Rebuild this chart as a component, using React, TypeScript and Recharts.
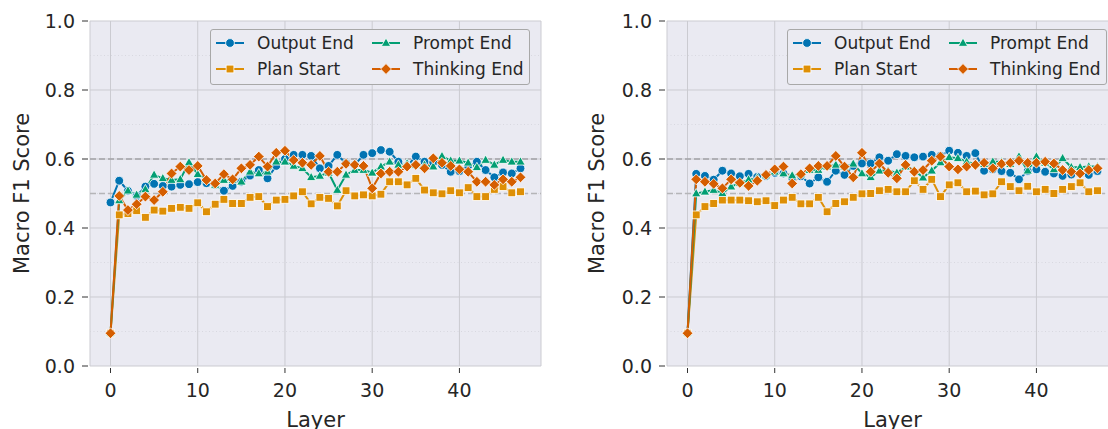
import React from "react";
import { CartesianGrid, Legend, Line, LineChart, ReferenceLine, XAxis, YAxis } from "recharts";

const layers = [
  0, 1, 2, 3, 4, 5, 6, 7, 8, 9, 10, 11, 12, 13, 14, 15, 16, 17, 18, 19, 20, 21, 22, 23,
  24, 25, 26, 27, 28, 29, 30, 31, 32, 33, 34, 35, 36, 37, 38, 39, 40, 41, 42, 43, 44, 45, 46, 47
];

const xTicks = [0, 10, 20, 30, 40];
const yTicks = [0, 0.2, 0.4, 0.6, 0.8, 1.0];
const minorY = [0.1, 0.3, 0.5, 0.7, 0.9];

// left panel
const leftOutputEnd = [
  0.474, 0.537, 0.508, 0.493, 0.52, 0.528, 0.522, 0.52, 0.525, 0.527, 0.533, 0.53, 0.525, 0.508, 0.522, 0.534,
  0.552, 0.568, 0.544, 0.58, 0.6, 0.612, 0.612, 0.609, 0.573, 0.58, 0.612, 0.587, 0.583, 0.612, 0.617, 0.626,
  0.621, 0.592, 0.58, 0.607, 0.592, 0.59, 0.583, 0.563, 0.565, 0.58, 0.592, 0.568, 0.547, 0.561, 0.558, 0.573
];
const leftPlanStart = [
  0.095, 0.438, 0.442, 0.45, 0.431, 0.452, 0.449, 0.457, 0.46, 0.457, 0.473, 0.447, 0.469, 0.483, 0.471, 0.471,
  0.489, 0.491, 0.462, 0.481, 0.483, 0.493, 0.505, 0.47, 0.489, 0.486, 0.464, 0.508, 0.493, 0.496, 0.493, 0.498,
  0.534, 0.534, 0.525, 0.544, 0.51, 0.502, 0.499, 0.508, 0.502, 0.517, 0.491, 0.491, 0.512, 0.52, 0.502, 0.505
];
const leftPromptEnd = [
  0.095, 0.48, 0.508, 0.496, 0.512, 0.554, 0.544, 0.539, 0.541, 0.59, 0.556, 0.54, 0.525, 0.539, 0.539, 0.534,
  0.563, 0.558, 0.563, 0.592, 0.592, 0.58, 0.573, 0.547, 0.551, 0.56, 0.51, 0.554, 0.568, 0.568, 0.56, 0.578,
  0.592, 0.583, 0.587, 0.583, 0.583, 0.578, 0.608, 0.595, 0.595, 0.589, 0.576, 0.597, 0.583, 0.597, 0.592, 0.592
];
const leftThinkingEnd = [
  0.095, 0.493, 0.452, 0.469, 0.491, 0.481, 0.505, 0.558, 0.578, 0.568, 0.58, 0.539, 0.529, 0.556, 0.541, 0.573,
  0.583, 0.607, 0.578, 0.618, 0.624, 0.597, 0.589, 0.583, 0.609, 0.563, 0.563, 0.586, 0.583, 0.58, 0.515, 0.558,
  0.563, 0.563, 0.578, 0.583, 0.573, 0.602, 0.589, 0.58, 0.57, 0.563, 0.534, 0.534, 0.525, 0.541, 0.534, 0.547
];

// right panel
const rightOutputEnd = [
  0.095, 0.557, 0.551, 0.54, 0.566, 0.558, 0.55, 0.557, 0.548, 0.55, 0.56, 0.558, 0.545, 0.55, 0.529, 0.547,
  0.534, 0.566, 0.554, 0.58, 0.587, 0.587, 0.605, 0.595, 0.614, 0.609, 0.605, 0.607, 0.612, 0.609, 0.624, 0.618,
  0.609, 0.617, 0.566, 0.57, 0.565, 0.56, 0.541, 0.565, 0.57, 0.563, 0.558, 0.551, 0.555, 0.558, 0.554, 0.565
];
const rightPlanStart = [
  0.095, 0.438, 0.462, 0.471, 0.481, 0.481, 0.481, 0.479, 0.476, 0.479, 0.465, 0.481, 0.489, 0.47, 0.47, 0.489,
  0.447, 0.471, 0.476, 0.489, 0.499, 0.5, 0.508, 0.512, 0.505, 0.505, 0.537, 0.512, 0.541, 0.491, 0.525, 0.531,
  0.505, 0.507, 0.496, 0.499, 0.534, 0.52, 0.508, 0.521, 0.505, 0.512, 0.5, 0.512, 0.52, 0.531, 0.505, 0.508
];
const rightPromptEnd = [
  0.095, 0.5, 0.505, 0.51, 0.501, 0.52, 0.53, 0.54, 0.545, 0.552, 0.563, 0.558, 0.552, 0.555, 0.568, 0.568,
  0.578, 0.583, 0.578, 0.586, 0.558, 0.547, 0.566, 0.566, 0.56, 0.578, 0.568, 0.546, 0.566, 0.59, 0.605, 0.602,
  0.592, 0.585, 0.585, 0.592, 0.592, 0.585, 0.607, 0.566, 0.607, 0.589, 0.57, 0.602, 0.576, 0.576, 0.578, 0.578
];
const rightThinkingEnd = [
  0.095, 0.541, 0.534, 0.528, 0.515, 0.541, 0.531, 0.522, 0.537, 0.554, 0.57, 0.578, 0.529, 0.556, 0.573, 0.58,
  0.58, 0.609, 0.578, 0.547, 0.618, 0.563, 0.587, 0.56, 0.544, 0.583, 0.563, 0.568, 0.595, 0.607, 0.578, 0.57,
  0.578, 0.583, 0.589, 0.573, 0.586, 0.589, 0.595, 0.589, 0.589, 0.592, 0.587, 0.568, 0.563, 0.558, 0.568, 0.573
];

const FONT = "DejaVu Sans";
const TEXT = "#262626";
const PLOT_W = 451;
const TOP = 21;
const PLOT_H = 345;
const X_AXIS_H = 63;

const seriesMeta = [
  { key: "outputEnd", name: "Output End", color: "#0173B2", marker: "circle" },
  { key: "planStart", name: "Plan Start", color: "#DE8F05", marker: "square" },
  { key: "promptEnd", name: "Prompt End", color: "#029E73", marker: "triangle" },
  { key: "thinkingEnd", name: "Thinking End", color: "#D55E00", marker: "diamond" }
];

function Marker({ cx, cy, kind, color }: { cx: number; cy: number; kind: string; color: string }) {
  const common = { fill: color, stroke: "#fff", strokeWidth: 0.8 };
  if (kind === "circle") return <circle cx={cx} cy={cy} r={4.4} {...common} />;
  if (kind === "square") return <rect x={cx - 3.9} y={cy - 3.9} width={7.8} height={7.8} {...common} />;
  if (kind === "triangle")
    return <polygon points={`${cx},${cy - 5} ${cx - 4.7},${cy + 3.3} ${cx + 4.7},${cy + 3.3}`} {...common} />;
  return <polygon points={`${cx},${cy - 5.4} ${cx + 5.4},${cy} ${cx},${cy + 5.4} ${cx - 5.4},${cy}`} {...common} />;
}

const YTick = ({ x, y, payload }: any) => (
  <g>
    <line x1={x - 8} x2={x - 2} y1={y} y2={y} stroke="#333" strokeWidth={1} />
    <text x={x - 15} y={y} dy="0.36em" textAnchor="end" fontSize={19} fontFamily={FONT} fill={TEXT}>
      {Number(payload.value).toFixed(1)}
    </text>
  </g>
);

const XTick = ({ x, y, payload }: any) => (
  <g>
    <line x1={x} x2={x} y1={y + 2} y2={y + 7} stroke="#333" strokeWidth={1} />
    <text x={x} y={y + 31} textAnchor="middle" fontSize={19} fontFamily={FONT} fill={TEXT}>
      {payload.value}
    </text>
  </g>
);

function LegendBox() {
  return (
    <div
      style={{
        position: "relative",
        width: 320,
        height: 56,
        boxSizing: "border-box",
        border: "1px solid #a8a8a8",
        borderRadius: 3,
        background: "#ebebf2",
        fontFamily: FONT,
        fontSize: 17,
        color: TEXT
      }}
    >
      {seriesMeta.map((s, i) => {
        const col = Math.floor(i / 2);
        const row = i % 2;
        return (
          <div
            key={s.key}
            style={{
              position: "absolute",
              left: col === 0 ? 5 : 161,
              top: (row === 0 ? 13 : 39) - 10,
              height: 20,
              display: "flex",
              alignItems: "center",
              whiteSpace: "nowrap"
            }}
          >
            <svg width={28} height={20}>
              <line x1={0} x2={28} y1={10} y2={10} stroke={s.color} strokeWidth={2} />
              <Marker cx={14} cy={10} kind={s.marker} color={s.color} />
            </svg>
            <span style={{ marginLeft: 13 }}>{s.name}</span>
          </div>
        );
      })}
    </div>
  );
}

function Panel({
  values,
  yAxisWidth,
  yLabelX
}: {
  values: Record<string, number[]>;
  yAxisWidth: number;
  yLabelX: number;
}) {
  const data = layers.map((layer, i) => ({
    layer,
    outputEnd: values.outputEnd[i],
    planStart: values.planStart[i],
    promptEnd: values.promptEnd[i],
    thinkingEnd: values.thinkingEnd[i]
  }));
  const right = 13;
  return (
    <LineChart
      width={yAxisWidth + PLOT_W + right}
      height={TOP + PLOT_H + X_AXIS_H}
      data={data}
      margin={{ top: TOP, right, bottom: 0, left: 0 }}
    >
      <CartesianGrid fill="#EAEAF2" fillOpacity={1} stroke="#cbcbd1" strokeWidth={1} />
      {minorY.map((v) => (
        <ReferenceLine key={v} y={v} stroke="#d3d3db" strokeWidth={0.8} strokeDasharray="1 2.5" />
      ))}
      <ReferenceLine y={0.5} stroke="#b5b5b8" strokeWidth={1.3} strokeDasharray="6 3" />
      <ReferenceLine y={0.6} stroke="#a3a3a6" strokeWidth={1.3} strokeDasharray="6 3" />
      <XAxis
        dataKey="layer"
        type="number"
        domain={[-2.35, 49.35]}
        allowDataOverflow
        ticks={xTicks}
        axisLine={false}
        tickLine={false}
        tickSize={0}
        tickMargin={0}
        height={X_AXIS_H}
        tick={<XTick />}
        label={() => (
          <text x={yAxisWidth + PLOT_W / 2} y={427} textAnchor="middle" fontSize={21} fontFamily={FONT} fill={TEXT}>
            Layer
          </text>
        )}
      />
      <YAxis
        type="number"
        domain={[0, 1]}
        allowDataOverflow
        ticks={yTicks}
        axisLine={false}
        tickLine={false}
        tickSize={0}
        tickMargin={0}
        width={yAxisWidth}
        tick={<YTick />}
        label={() => (
          <text
            x={yLabelX}
            y={TOP + PLOT_H / 2}
            transform={`rotate(-90, ${yLabelX}, ${TOP + PLOT_H / 2})`}
            textAnchor="middle"
            dominantBaseline="central"
            fontSize={21}
            fontFamily={FONT}
            fill={TEXT}
          >
            Macro F1 Score
          </text>
        )}
      />
      {seriesMeta.map((s) => (
        <Line
          key={s.key}
          dataKey={s.key}
          name={s.name}
          type="linear"
          stroke={s.color}
          strokeWidth={2}
          isAnimationActive={false}
          activeDot={false}
          dot={(p: any) => <Marker key={`${s.key}-${p.index}`} cx={p.cx} cy={p.cy} kind={s.marker} color={s.color} />}
        />
      ))}
      <Legend
        layout="horizontal"
        verticalAlign="middle"
        align="center"
        content={() => <LegendBox />}
        wrapperStyle={{ left: yAxisWidth + 120, top: 29, width: 320, height: 56 }}
      />
    </LineChart>
  );
}

export default function App() {
  return (
    <div
      style={{
        position: "absolute",
        left: 0,
        top: 0,
        width: 1108,
        height: 429,
        overflow: "hidden",
        background: "#fff"
      }}
    >
      <div style={{ position: "absolute", left: 0, top: 0 }}>
        <Panel
          values={{
            outputEnd: leftOutputEnd,
            planStart: leftPlanStart,
            promptEnd: leftPromptEnd,
            thinkingEnd: leftThinkingEnd
          }}
          yAxisWidth={90}
          yLabelX={22}
        />
      </div>
      <div style={{ position: "absolute", left: 554, top: 0 }}>
        <Panel
          values={{
            outputEnd: rightOutputEnd,
            planStart: rightPlanStart,
            promptEnd: rightPromptEnd,
            thinkingEnd: rightThinkingEnd
          }}
          yAxisWidth={113}
          yLabelX={43}
        />
      </div>
    </div>
  );
}
